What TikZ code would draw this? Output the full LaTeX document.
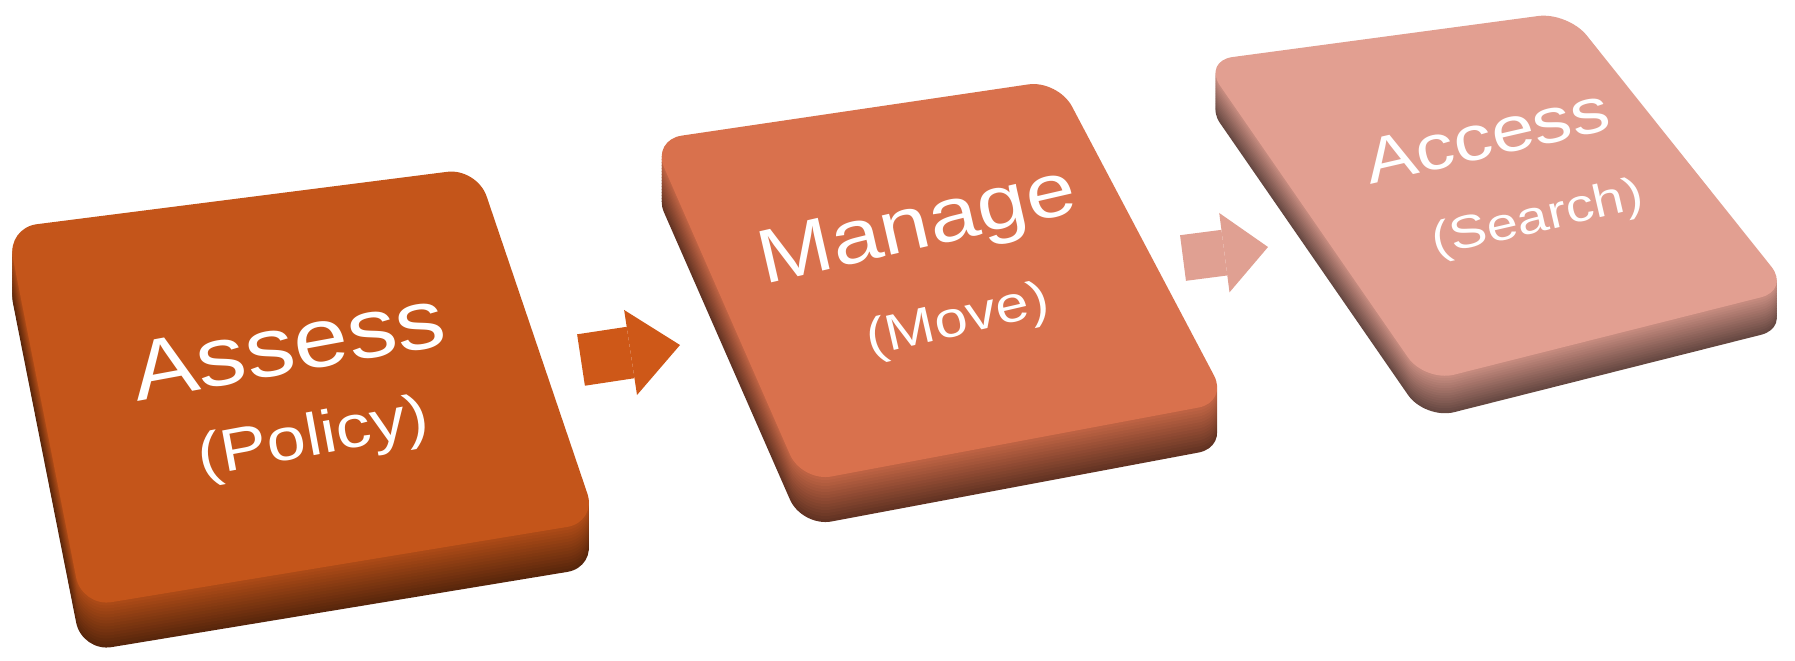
\documentclass[tikz,border=0pt]{standalone}
\usepackage{fontspec}
\setmainfont{Liberation Sans}
\usetikzlibrary{arrows.meta}

\definecolor{assesscol}{RGB}{196,85,26}
\definecolor{managecol}{RGB}{217,113,77}
\definecolor{accesscol}{RGB}{226,159,145}
\definecolor{flowonecol}{RGB}{206,88,24}
\definecolor{flowtwocol}{RGB}{224,160,146}

\begin{document}
\begin{tikzpicture}[
    tile/.style={rounded corners=0.3cm},
    tiletext/.style={text=white, inner sep=0pt, font=\fontsize{#1}{#1}\selectfont},
    tiltone/.style={cm={0.983,0.182,-0.155,0.836,(0,0)}},
    tilttwo/.style={cm={0.974,0.225,-0.191,0.828,(0,0)}},
    tiltthree/.style={cm={0.974,0.225,-0.185,0.799,(0,0)}},
    flowone/.style={flowonecol, line width=0.52cm, -{Triangle[length=5mm 0 0, width=8.6mm 0 0, line width=0pt 0]}},
    flowtwo/.style={flowtwocol, line width=0.46cm, -{Triangle[length=4.4mm 0 0, width=8mm 0 0, line width=0pt 0]}}
]
\useasboundingbox (0,0) rectangle (17.95,-6.60);

% Assess tile
\foreach \k in {15,14,...,1}{
  \pgfmathtruncatemacro{\mix}{90-3*\k}
  \fill[tile, assesscol!\mix!black, shift={(0,-0.03*\k)}] (0.07,-2.28) -- (4.77,-1.68) -- (5.97,-5.22) -- (0.82,-6.07) -- cycle;
}
\fill[tile, assesscol] (0.07,-2.28) -- (4.77,-1.68) -- (5.97,-5.22) -- (0.82,-6.07) -- cycle;

% Manage tile
\foreach \k in {15,14,...,1}{
  \pgfmathtruncatemacro{\mix}{90-3*\k}
  \fill[tile, managecol!\mix!black, shift={(0,-0.03*\k)}] (6.52,-1.40) -- (10.58,-0.80) -- (12.28,-4.02) -- (8.02,-4.82) -- cycle;
}
\fill[tile, managecol] (6.52,-1.40) -- (10.58,-0.80) -- (12.28,-4.02) -- (8.02,-4.82) -- cycle;

% Access tile
\foreach \k in {15,14,...,1}{
  \pgfmathtruncatemacro{\mix}{90-3*\k}
  \fill[tile, accesscol!\mix!black, shift={(0,-0.025*\k)}] (12.03,-0.61) -- (15.68,-0.12) -- (17.90,-2.90) -- (14.25,-3.82) -- cycle;
}
\fill[tile, accesscol] (12.03,-0.61) -- (15.68,-0.12) -- (17.90,-2.90) -- (14.25,-3.82) -- cycle;

\node[tiletext=28, tiltone] (assess) at (2.88,-3.45) {Assess};
\node[tiletext=20, tiltone] (policy) at (3.14,-4.40) {(Policy)};

\node[tiletext=25.5, tilttwo] (manage) at (9.18,-2.30) {Manage};
\node[tiletext=17, tilttwo] (move) at (9.58,-3.22) {(Move)};

\node[tiletext=22, tiltthree] (access) at (14.87,-1.36) {Access};
\node[tiletext=16, tiltthree] (search) at (15.38,-2.20) {(Search)};

\coordinate (flowones) at (5.81,-3.60);
\coordinate (flowonee) at (6.80,-3.45);
\coordinate (flowtwos) at (11.83,-2.58);
\coordinate (flowtwoe) at (12.68,-2.47);

\draw[flowone] (flowones) -- (flowonee);
\draw[flowtwo] (flowtwos) -- (flowtwoe);
\end{tikzpicture}
\end{document}
